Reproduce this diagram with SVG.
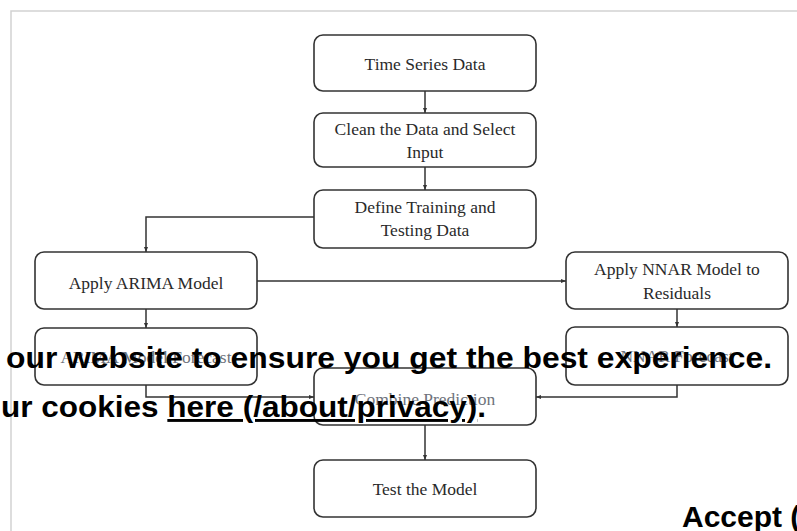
<svg xmlns="http://www.w3.org/2000/svg" width="797" height="531" viewBox="0 0 797 531">
  <style>
    .box { fill: #ffffff; stroke: #333333; stroke-width: 1.6; }
    .lbl { font-family: "Liberation Serif", "Times New Roman", serif; font-size: 17.5px; fill: #2a2a2a; text-anchor: middle; }
    .hid { font-family: "Liberation Serif", "Times New Roman", serif; font-size: 17.5px; fill: #555a66; text-anchor: middle; opacity: 0.85; }
    .con { fill: none; stroke: #333333; stroke-width: 1.5; }
    .ov { font-family: "Liberation Sans", Arial, sans-serif; font-weight: bold; fill: #000000; }
  </style>
  <defs>
    <marker id="arr" viewBox="0 0 10 10" refX="10" refY="5" markerWidth="5" markerHeight="5" orient="auto" markerUnits="userSpaceOnUse">
      <path d="M0,1 L10,5 L0,9 Z" fill="#333333"/>
    </marker>
  </defs>
  <rect x="0" y="0" width="797" height="531" fill="#ffffff"/>
  <rect x="11" y="11" width="800" height="540" fill="none" stroke="#d2d2d2" stroke-width="1.5"/>

  <g id="connectors">
    <path class="con" d="M425,91 L425,113" marker-end="url(#arr)"/>
    <path class="con" d="M425,167 L425,190" marker-end="url(#arr)"/>
    <path class="con" d="M314,217 L146,217 L146,252" marker-end="url(#arr)"/>
    <path class="con" d="M257,281 L566,281" marker-end="url(#arr)"/>
    <path class="con" d="M146,309 L146,328" marker-end="url(#arr)"/>
    <path class="con" d="M677,309 L677,327" marker-end="url(#arr)"/>
    <path class="con" d="M146,385 L146,397 L314,397" marker-end="url(#arr)"/>
    <path class="con" d="M677,385 L677,397 L536,397" marker-end="url(#arr)"/>
    <path class="con" d="M425,425 L425,460" marker-end="url(#arr)"/>
  </g>

  <g id="time-series-data">
    <rect class="box" x="314" y="35" width="222" height="56" rx="9"/>
    <text class="lbl" x="425" y="70">Time Series Data</text>
  </g>
  <g id="clean-data">
    <rect class="box" x="314" y="113" width="222" height="54" rx="9"/>
    <text class="lbl" x="425" y="135">Clean the Data and Select</text>
    <text class="lbl" x="425" y="158">Input</text>
  </g>
  <g id="define-training">
    <rect class="box" x="314" y="190" width="222" height="58" rx="9"/>
    <text class="lbl" x="425" y="213">Define Training and</text>
    <text class="lbl" x="425" y="236">Testing Data</text>
  </g>
  <g id="apply-arima">
    <rect class="box" x="35" y="252" width="222" height="57" rx="9"/>
    <text class="lbl" x="146" y="289">Apply ARIMA Model</text>
  </g>
  <g id="apply-nnar">
    <rect class="box" x="566" y="252" width="222" height="57" rx="9"/>
    <text class="lbl" x="677" y="275">Apply NNAR Model to</text>
    <text class="lbl" x="677" y="299">Residuals</text>
  </g>
  <g id="arima-forecast">
    <rect class="box" x="35" y="328" width="222" height="57" rx="9"/>
    <text class="hid" x="146" y="363">ARIMA Model Forecast</text>
  </g>
  <g id="nnar-forecast">
    <rect class="box" x="566" y="327" width="222" height="58" rx="9"/>
    <text class="hid" x="677" y="362">NNAR Forecast</text>
  </g>
  <g id="combine-prediction">
    <rect class="box" x="314" y="368" width="222" height="57" rx="9"/>
    <text class="hid" x="425" y="405">Combine Prediction</text>
  </g>
  <g id="test-model">
    <rect class="box" x="314" y="460" width="222" height="57" rx="9"/>
    <text class="lbl" x="425" y="495">Test the Model</text>
  </g>

  <g id="overlay">
    <text class="ov" x="6" y="368" font-size="29" textLength="766" lengthAdjust="spacingAndGlyphs">our website to ensure you get the best experience.</text>
    <text class="ov" x="1" y="417" font-size="29" textLength="485" lengthAdjust="spacingAndGlyphs">ur cookies <tspan text-decoration="underline">here (/about/privacy)</tspan>.</text>
    <text class="ov" x="682" y="527" font-size="30">Accept (</text>
  </g>
</svg>
